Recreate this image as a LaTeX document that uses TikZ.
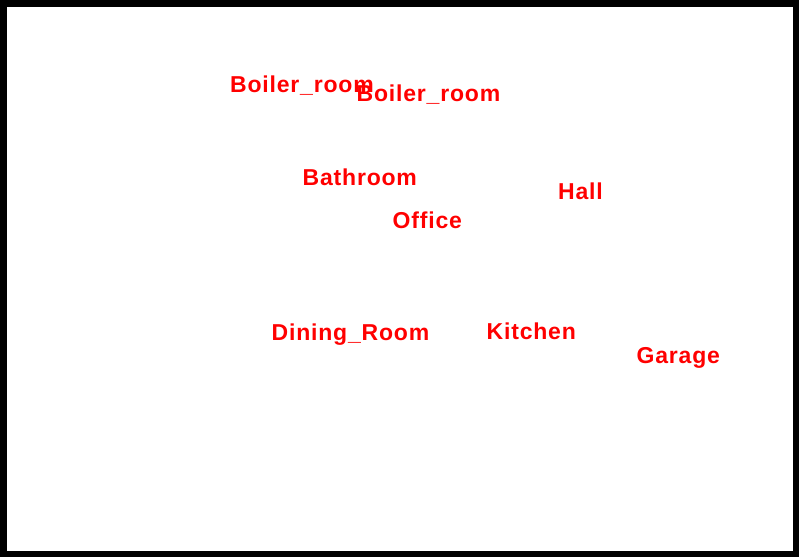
\documentclass[tikz,border=0pt]{standalone}
\usepackage{fontspec}
\setmainfont{Liberation Sans}
\newfontfamily\roomfont{Liberation Sans}[LetterSpace=3.5]
\usepackage{tikz}
\usetikzlibrary{positioning}
\tikzset{
  frm/.style={fill=black},
  pane/.style={fill=white},
  room/.style={text=red, inner sep=0pt, anchor=base west,
               font=\roomfont\fontsize{23}{23}\selectfont\bfseries},
}

\begin{document}
\begin{tikzpicture}[x=1pt, y=-1pt]
    \fill[frm] (0,0) rectangle (799,557);
    \fill[pane] (7,7) rectangle (793,551);
    \node[room] (boiler1) at (230,92) {Boiler\_room};
    \node[room] (boiler2) at (356.5,101) {Boiler\_room};
    \node[room] (bath) at (302.5,185) {Bathroom};
    \node[room] (hall) at (558,199) {Hall};
    \node[room] (office) at (392.5,228) {Office};
    \node[room] (dining) at (271.5,340) {Dining\_Room};
    \node[room] (kitchen) at (486.5,339) {Kitchen};
    \node[room] (garage) at (636.5,363) {Garage};
  \end{tikzpicture}
\end{document}
